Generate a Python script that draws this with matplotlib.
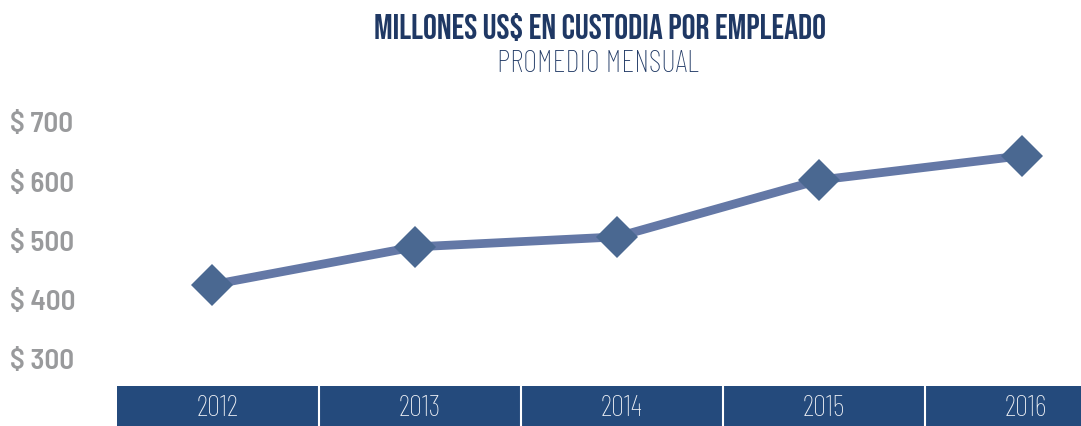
import matplotlib
matplotlib.use("Agg")
import matplotlib.pyplot as plt
import matplotlib.transforms as mtransforms

# values
years = ["2012", "2013", "2014", "2015", "2016"]
custody = [430, 494, 511, 607, 648]
ticks = [300, 400, 500, 600, 700]
tick_labels = ["$ 300", "$ 400", "$ 500", "$ 600", "$ 700"]

W, H = 1081, 426

title_font = ["Bebas Neue", "DejaVu Sans"]
light_font = ["Barlow Condensed", "DejaVu Sans"]
tick_font = ["Barlow Semi Condensed", "DejaVu Sans"]

fig = plt.figure(figsize=(W / 100, H / 100), dpi=100)
fig.patch.set_facecolor("white")

# main plot area, points sit a little left of the band cell centres
left_px, right_px = 117, 1081
step = 202.5
xmin = -(212 - left_px) / step
xmax = xmin + (right_px - left_px) / step
ax = fig.add_axes([left_px / W, 40 / H, (right_px - left_px) / W, 290 / H])
ax.set_xlim(xmin, xmax)
ax.set_ylim(259, 749)
ax.axis("off")

xs = list(range(len(years)))
ax.plot(xs, custody, color="#6478a6", linewidth=6.3, solid_capstyle="butt", zorder=2)
ax.plot(xs, custody, linestyle="none", marker="D", markersize=21,
        color="#4a6891", markeredgewidth=0, zorder=3)

# y tick labels, left aligned near the left edge
trans = mtransforms.blended_transform_factory(fig.transFigure, ax.transData)
for t, lab in zip(ticks, tick_labels):
    ax.text(10 / W, t, lab, transform=trans, ha="left", va="center",
            fontsize=21, fontweight="semibold", color="#999a9c", family=tick_font,
            fontstretch="semi-condensed")

# year band at the bottom
band = fig.add_axes([left_px / W, 0, (right_px - left_px) / W, 40 / H])
band.set_xlim(-0.5, -0.5 + (right_px - left_px) / 202.0)
band.set_ylim(0, 1)
band.set_facecolor("#244a7c")
band.set_xticks([])
band.set_yticks([])
for s in band.spines.values():
    s.set_visible(False)
for i in range(1, len(years)):
    band.axvline(i - 0.5, color="white", linewidth=1.5)
for i, y in enumerate(years):
    band.text(i, 0.45, y, ha="center", va="center", color="#f0f2f6",
              fontsize=21, family=light_font, fontstretch="condensed",
              fontweight="light")

fig.text(600 / W, 1 - 27 / H, "MILLONES US$ EN CUSTODIA POR EMPLEADO",
         ha="center", va="center", fontsize=25, color="#1f3864",
         family=title_font)
fig.text(598 / W, 1 - 64 / H, "PROMEDIO MENSUAL", ha="center", va="center",
         fontsize=22, color="#1f3864", family=light_font, fontstretch="condensed",
         fontweight="light")

fig.savefig("out.png", dpi=100, facecolor="white")
